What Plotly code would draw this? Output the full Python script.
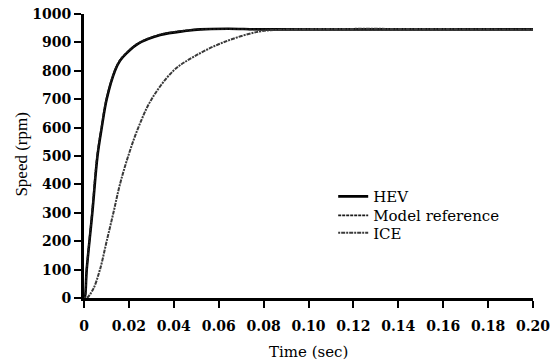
import plotly.graph_objects as go

t_hev = [0, 0.0003, 0.0012, 0.0037, 0.0060, 0.0079, 0.0101, 0.0138, 0.0160, 0.0190, 0.0240, 0.0339, 0.0457, 0.0517, 0.064, 0.080, 0.200]
v_hev = [0, 0, 100, 300, 500, 600, 700, 800, 835, 862, 895, 926, 941, 946, 948, 946, 946]

t_ref = [0, 0.0003, 0.0012, 0.0036, 0.0059, 0.0078, 0.0100, 0.0137, 0.0159, 0.0189, 0.0239, 0.0338, 0.0456, 0.0516, 0.064, 0.080, 0.200]
v_ref = [0, 0, 102, 302, 502, 602, 702, 801, 836, 863, 896, 927, 942, 946, 947, 946, 946]

t_ice = [0, 0.0012, 0.004, 0.0071, 0.0101, 0.0131, 0.016, 0.0197, 0.0242, 0.0301, 0.0398, 0.049, 0.062, 0.078, 0.090, 0.200]
v_ice = [0, 0, 30, 100, 200, 300, 400, 500, 600, 700, 800, 850, 900, 938, 945, 945]

x_ticks = [0, 0.02, 0.04, 0.06, 0.08, 0.10, 0.12, 0.14, 0.16, 0.18, 0.20]
x_tick_text = ["0", "0.02", "0.04", "0.06", "0.08", "0.10", "0.12", "0.14", "0.16", "0.18", "0.20"]
y_ticks = [0, 100, 200, 300, 400, 500, 600, 700, 800, 900, 1000]

x_title = "Time (sec)"
y_title = "Speed (rpm)"

TICKF = dict(family="DejaVu Serif", size=14, color="black", weight="bold")
XTITLEF = dict(family="DejaVu Serif", size=15, color="black", weight="normal")
YTITLEF = dict(family="Liberation Serif", size=17, color="black", weight="normal")
LEGF = dict(family="DejaVu Serif", size=15, color="black", weight="normal")

fig = go.Figure()
fig.add_trace(go.Scatter(x=t_hev, y=v_hev, name="HEV", mode="lines", legend="legend",
                         line=dict(color="black", width=2.6, shape="spline", smoothing=1.0)))
fig.add_trace(go.Scatter(x=t_ref, y=v_ref, name="Model reference", mode="lines", legend="legend2",
                         line=dict(color="#1a1a1a", width=1.8, dash="3px,1px", shape="spline", smoothing=1.0)))
fig.add_trace(go.Scatter(x=t_ice, y=v_ice, name="ICE", mode="lines", legend="legend3",
                         line=dict(color="#3a3a3a", width=2, dash="2px,1px,4px,1px", shape="spline", smoothing=1.0)))

LEGX = 0.555
leg_common = dict(x=LEGX, xanchor="left", yanchor="middle", bgcolor="rgba(0,0,0,0)",
                  font=LEGF, itemwidth=30, borderwidth=0)

fig.update_layout(
    width=555, height=364,
    margin=dict(l=84, r=22, t=14, b=66, autoexpand=False),
    paper_bgcolor="white", plot_bgcolor="white",
    font=dict(family="DejaVu Serif", size=14, color="black", weight="normal"),
    showlegend=True,
    legend=dict(y=0.357, **leg_common),
    legend2=dict(y=0.290, **leg_common),
    legend3=dict(y=0.229, **leg_common),
    xaxis=dict(range=[0, 0.2], tickvals=x_ticks, ticktext=x_tick_text, automargin=False,
               showgrid=False, zeroline=False, showline=True, linecolor="black", linewidth=3,
               ticks="outside", ticklen=7, tickwidth=2, tickcolor="black", ticklabelstandoff=6,
               tickfont=TICKF),
    yaxis=dict(range=[0, 1000], tickvals=y_ticks, automargin=False,
               showgrid=False, zeroline=False, showline=True, linecolor="black", linewidth=3,
               ticks="outside", ticklen=7, tickwidth=2, tickcolor="black",
               tickfont=TICKF),
    annotations=[
        dict(text=x_title, xref="paper", yref="paper", x=0.5, y=-0.19,
             xanchor="center", yanchor="middle", showarrow=False, font=XTITLEF),
        dict(text=y_title, xref="paper", yref="paper", x=-0.138, y=0.505, textangle=-90,
             xanchor="center", yanchor="middle", showarrow=False, font=YTITLEF),
    ],
)

fig.write_html("out.html")
